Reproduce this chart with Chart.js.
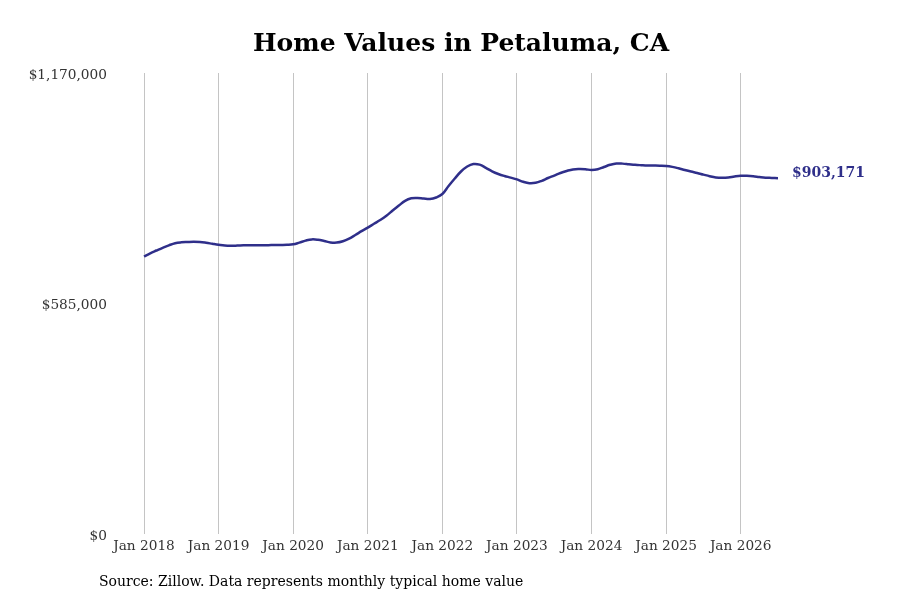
<!DOCTYPE html>
<html lang="en">
<head>
  <meta charset="UTF-8">
  <title>Home Values in Petaluma, CA</title>
  <style>
    html, body { margin: 0; padding: 0; background: #fff; }
    #wrap { width: 900px; height: 600px; position: relative; }
  </style>
</head>
<body>
  <div id="wrap"><canvas id="homeChart"></canvas></div>

  <script src="https://cdn.jsdelivr.net/npm/chart.js"></script>
  <script>
    const monthNames = ["Jan", "Feb", "Mar", "Apr", "May", "Jun", "Jul", "Aug", "Sep", "Oct", "Nov", "Dec"];
    const years = [2018, 2019, 2020, 2021, 2022, 2023, 2024, 2025, 2026];

    // typical home value, monthly, Jan 2018 .. Jul 2026
    const values = [
      704300, 712400, 719500, 726400, 732700, 738000, 740300, 741100, 741600, 741100, 739100, 736500,
      734000, 731900, 731400, 731900, 732700, 733000, 732700, 732700, 733000, 733500, 733700, 734000,
      735200, 739600, 744600, 747700, 746700, 743600, 740100, 739600, 743100, 749700, 758800, 768500,
      777600, 787300, 796900, 807800, 820800, 833500, 845600, 852000, 852800, 851200, 850200, 854000,
      862900, 883200, 902200, 920000, 932700, 939000, 937500, 929400, 920500, 913700, 908600, 904500,
      900000, 893900, 890300, 891300, 896400, 903500, 909600, 916200, 921300, 925300, 926300, 925800,
      923800, 925600, 931400, 937000, 940300, 940000, 938500, 937000, 936000, 935200, 935000, 934700,
      934000, 931700, 928100, 923800, 919800, 916200, 912100, 908100, 905000, 904000, 904800, 907300,
      909100, 909100, 908100, 906000, 904300, 903800, 903171
    ];

    const yTicks = [0, 585000, 1170000];

    const months = [];
    years.forEach(y => monthNames.forEach(m => months.push(m + " " + y)));
    months.length = values.length;

    const lineColor = "#2f2f8a";
    const serif = "'DejaVu Serif', serif";

    const fmt = v => "$" + v.toLocaleString("en-US");

    // title, source note and end label
    const extras = {
      id: "extras",
      afterDraw(chart) {
        const ctx = chart.ctx;
        const area = chart.chartArea;
        ctx.save();
        ctx.fillStyle = "#000";
        ctx.textAlign = "center";
        ctx.textBaseline = "middle";
        ctx.font = "bold 25px " + serif;
        ctx.fillText("Home Values in Petaluma, CA", (area.left + area.right) / 2, 44);

        ctx.font = "14px " + serif;
        ctx.textAlign = "left";
        ctx.fillText("Source: Zillow. Data represents monthly typical home value", 99, 582);

        const meta = chart.getDatasetMeta(0);
        const last = meta.data[meta.data.length - 1];
        ctx.fillStyle = lineColor;
        ctx.font = "bold 14px " + serif;
        ctx.fillText(fmt(values[values.length - 1]), last.x + 14, last.y - 5);
        ctx.restore();
      }
    };

    new Chart(document.getElementById("homeChart"), {
      type: "line",
      data: {
        labels: months,
        datasets: [{
          data: values,
          borderColor: lineColor,
          borderWidth: 2.5,
          pointRadius: 0,
          tension: 0.4,
          fill: false
        }]
      },
      options: {
        responsive: true,
        maintainAspectRatio: false,
        animation: false,
        layout: { padding: { top: 73, right: 122, left: 0, bottom: 0 } },
        plugins: {
          legend: { display: false },
          tooltip: { enabled: false }
        },
        scales: {
          x: {
            afterFit: s => { s.height = 66; },
            border: { display: false },
            grid: {
              drawTicks: false,
              color: c => (c.index % 12 === 0 ? "#c4c4c4" : "transparent"),
              lineWidth: 1
            },
            ticks: {
              autoSkip: false,
              maxRotation: 0,
              minRotation: 0,
              padding: 4,
              color: "#333",
              font: { family: serif, size: 13.7 },
              callback: (v, i) => (i % 12 === 0 ? months[i] : "")
            }
          },
          y: {
            min: 0,
            max: 1170000,
            afterFit: s => { s.width = 144; },
            afterBuildTicks: s => { s.ticks = yTicks.map(v => ({ value: v })); },
            border: { display: false },
            grid: { display: false, drawTicks: false },
            ticks: {
              padding: 37,
              labelOffset: 2,
              color: "#333",
              font: { family: serif, size: 13.7 },
              callback: v => fmt(v)
            }
          }
        }
      },
      plugins: [extras]
    });
  </script>
</body>
</html>
